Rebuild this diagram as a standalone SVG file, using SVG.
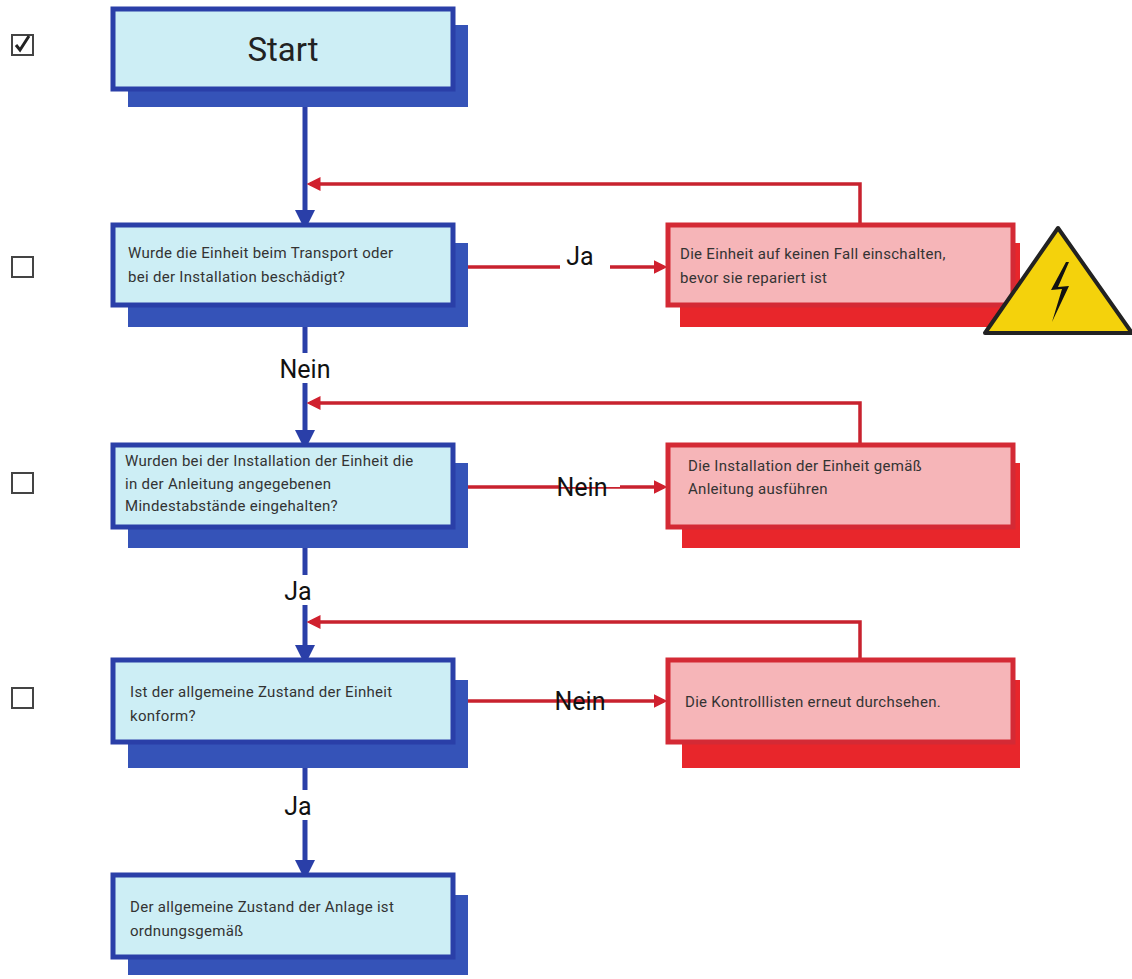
<svg xmlns="http://www.w3.org/2000/svg" width="1132" height="979" viewBox="0 0 1132 979">
<style>
.bs{fill:#3553b8}.bb{fill:#cdeef5;stroke:#2a3fa8;stroke-width:5}
.rs{fill:#e8262b}.rb{fill:#f6b5b8;stroke:#d42a35;stroke-width:5}
.t{font-family:Roboto,"Liberation Sans",sans-serif;font-size:15px;letter-spacing:0.3px;fill:#333}
.l{font-family:Roboto,"Liberation Sans",sans-serif;font-size:25px;fill:#111}
.cb{fill:#fff;stroke:#444;stroke-width:2}
.bl{stroke:#2a3fa8;stroke-width:5;fill:none}
.rl{stroke:#c8222e;stroke-width:3.5;fill:none}
</style>
<defs>
<marker id="ab" markerWidth="4" markerHeight="4" refX="2" refY="2" orient="auto"><path d="M0,0L4,2L0,4z" fill="#2a3fa8"/></marker>
<marker id="ar" markerWidth="4" markerHeight="4" refX="3" refY="2" orient="auto"><path d="M0,0L4,2L0,4z" fill="#d0202e"/></marker>
</defs>
<rect width="1132" height="979" fill="#fff"/>
<g id="checks">
<rect class="cb" x="12" y="35" width="21" height="20"/><path d="M16,45l4,5l9,-14" stroke="#222" stroke-width="3" fill="none"/>
<rect class="cb" x="12" y="257" width="21" height="20"/>
<rect class="cb" x="12" y="473" width="21" height="20"/>
<rect class="cb" x="12" y="688" width="21" height="20"/>
</g>
<g id="connectors">
<path class="bl" d="M305,107V220" marker-end="url(#ab)"/>
<path class="bl" d="M305,327V440" marker-end="url(#ab)"/>
<path class="bl" d="M305,548V655" marker-end="url(#ab)"/>
<path class="bl" d="M305,768V870" marker-end="url(#ab)"/>
<path class="rl" d="M860,225V184H310" marker-end="url(#ar)"/>
<path class="rl" d="M860,445V403H310" marker-end="url(#ar)"/>
<path class="rl" d="M860,660V622H310" marker-end="url(#ar)"/>
<path class="rl" d="M455,267H664" marker-end="url(#ar)"/>
<path class="rl" d="M455,487H664" marker-end="url(#ar)"/>
<path class="rl" d="M455,701H664" marker-end="url(#ar)"/>
<rect x="270" y="353" width="70" height="30" fill="#fff"/>
<rect x="280" y="575" width="40" height="30" fill="#fff"/>
<rect x="280" y="790" width="40" height="30" fill="#fff"/>
<rect x="560" y="250" width="50" height="24" fill="#fff"/>
<rect x="560" y="473" width="60" height="14" fill="#fff"/>
<text class="l" x="305" y="378" text-anchor="middle">Nein</text>
<text class="l" x="298" y="600" text-anchor="middle">Ja</text>
<text class="l" x="298" y="815" text-anchor="middle">Ja</text>
<text class="l" x="580" y="265" text-anchor="middle">Ja</text>
<text class="l" x="582" y="496" text-anchor="middle">Nein</text>
<text class="l" x="580" y="710" text-anchor="middle">Nein</text>
</g>
<g id="start"><rect class="bs" x="128" y="25" width="340" height="82"/><rect class="bb" x="113" y="9" width="340" height="80"/><text x="283" y="61" text-anchor="middle" font-family="Roboto,'Liberation Sans',sans-serif" font-size="33" fill="#222">Start</text></g>
<g id="q1"><rect class="bs" x="128" y="243" width="340" height="84"/><rect class="bb" x="113" y="225" width="340" height="80"/><text class="t" x="128" y="258">Wurde die Einheit beim Transport oder</text><text class="t" x="128" y="282">bei der Installation beschädigt?</text></g>
<g id="q2"><rect class="bs" x="128" y="463" width="340" height="85"/><rect class="bb" x="113" y="445" width="340" height="82"/><text class="t" x="125" y="466">Wurden bei der Installation der Einheit die</text><text class="t" x="125" y="489">in der Anleitung angegebenen</text><text class="t" x="125" y="511">Mindestabstände eingehalten?</text></g>
<g id="q3"><rect class="bs" x="128" y="680" width="340" height="88"/><rect class="bb" x="113" y="660" width="340" height="82"/><text class="t" x="130" y="697">Ist der allgemeine Zustand der Einheit</text><text class="t" x="130" y="721">konform?</text></g>
<g id="end"><rect class="bs" x="128" y="895" width="340" height="80"/><rect class="bb" x="113" y="875" width="340" height="82"/><text class="t" x="130" y="912">Der allgemeine Zustand der Anlage ist</text><text class="t" x="130" y="936">ordnungsgemäß</text></g>
<g id="r1"><rect class="rs" x="680" y="243" width="340" height="84"/><rect class="rb" x="668" y="225" width="345" height="80"/><text class="t" x="680" y="259">Die Einheit auf keinen Fall einschalten,</text><text class="t" x="680" y="283">bevor sie repariert ist</text>
<path d="M1058,228L1132,333H985Z" fill="#f4d20c" stroke="#222" stroke-width="4" stroke-linejoin="round"/><path d="M1066,262L1051,290L1062,289L1052,322L1069,286L1058,287L1069,262Z" fill="#111"/></g>
<g id="r2"><rect class="rs" x="682" y="463" width="338" height="85"/><rect class="rb" x="668" y="445" width="345" height="82"/><text class="t" x="688" y="471">Die Installation der Einheit gemäß</text><text class="t" x="688" y="494">Anleitung ausführen</text></g>
<g id="r3"><rect class="rs" x="682" y="680" width="338" height="88"/><rect class="rb" x="668" y="660" width="345" height="82"/><text class="t" x="685" y="707">Die Kontrolllisten erneut durchsehen.</text></g>
</svg>
